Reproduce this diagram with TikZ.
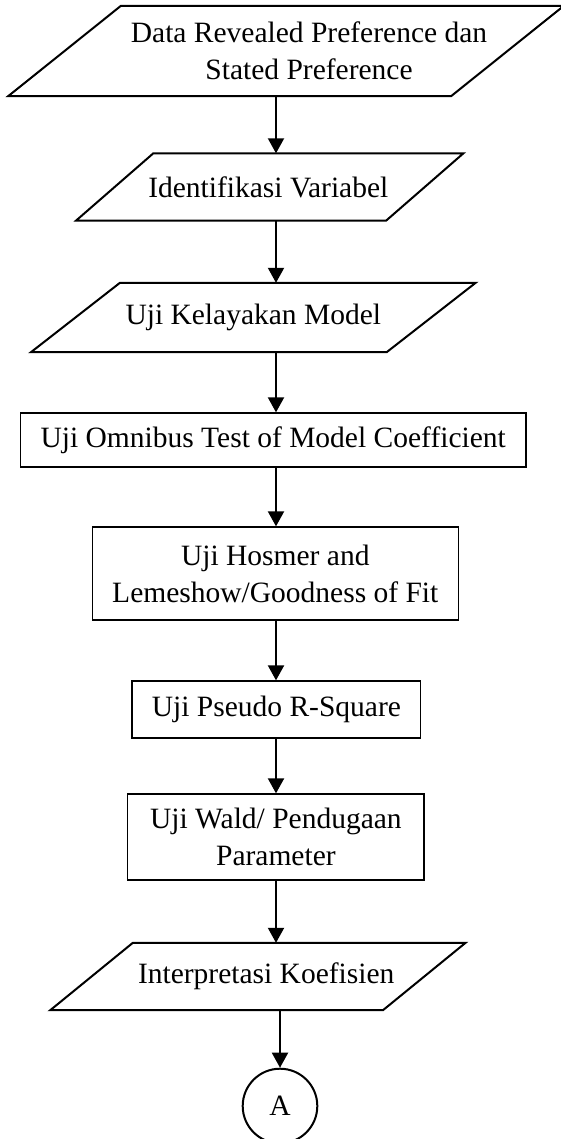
\documentclass[tikz,border=0pt]{standalone}
\usepackage{fontspec}
\setmainfont{Liberation Serif}
\usepackage{tikz}
\usetikzlibrary{positioning}
\usetikzlibrary{arrows.meta,calc}

\begin{document}
\begin{tikzpicture}[x=1pt,y=-1pt,
    font=\fontsize{29.5}{37}\selectfont,
    para/.style={inner sep=0pt, align=center},
    box/.style={draw, line width=1.3pt, inner sep=0pt, align=center},
    arr/.style={line width=2pt, -{Triangle[length=15pt,width=16pt]}}]
   \useasboundingbox (0,0) rectangle (561,1139);
   \coordinate (ax) at (276,0);
   % input / output (parallelograms)
   \draw (309,51) node[para, minimum width=442.5, minimum height=90] (data) {Data Revealed Preference dan\\Stated Preference};
   \draw (268.3,187) node[para, minimum width=309.7, minimum height=67] (ident) {Identifikasi Variabel};
   \draw (253.3,317.5) node[para, minimum width=355.3, minimum height=69] (kelayakan) {Uji Kelayakan Model};
   \draw (266.2,976.5) node[para, minimum width=332.3, minimum height=67] (interp) {Interpretasi Koefisien};
   \foreach \n/\s/\d in {data/56.4/-23, ident/38.7/1.4, kelayakan/44.5/0, interp/41.3/-8.3}
      \draw[line width=2pt] ([xshift=\d-\s]\n.south west) -- ([xshift=\d+\s]\n.north west)
         -- ([xshift=\d+\s]\n.north east) -- ([xshift=\d-\s]\n.south east) -- cycle;
   % process boxes
   \draw (273.2,440) node[box, minimum width=505.5, minimum height=54] (omnibus) {Uji Omnibus Test of Model Coefficient};
   \draw (275.3,573.5) node[box, minimum width=366, minimum height=93] (hosmer) {Uji Hosmer and\\Lemeshow/Goodness of Fit};
   \draw (276.4,709.5) node[box, minimum width=288.7, minimum height=57] (pseudo) {Uji Pseudo R-Square};
   \draw (275.9,837) node[box, minimum width=296.3, minimum height=86] (wald) {Uji Wald/ Pendugaan\\Parameter};
   % connector
   \draw (280,1106) node[circle, draw, line width=2pt, minimum size=74.6, inner sep=0pt] (A) {A};
   \foreach \a/\b in {data/ident, ident/kelayakan, kelayakan/omnibus, omnibus/hosmer, hosmer/pseudo, pseudo/wald, wald/interp}
      \draw[arr] (\a.south -| ax) -- (\b.north -| ax);
   \draw[arr] (interp.south -| A) -- (A);
\end{tikzpicture}
\end{document}
